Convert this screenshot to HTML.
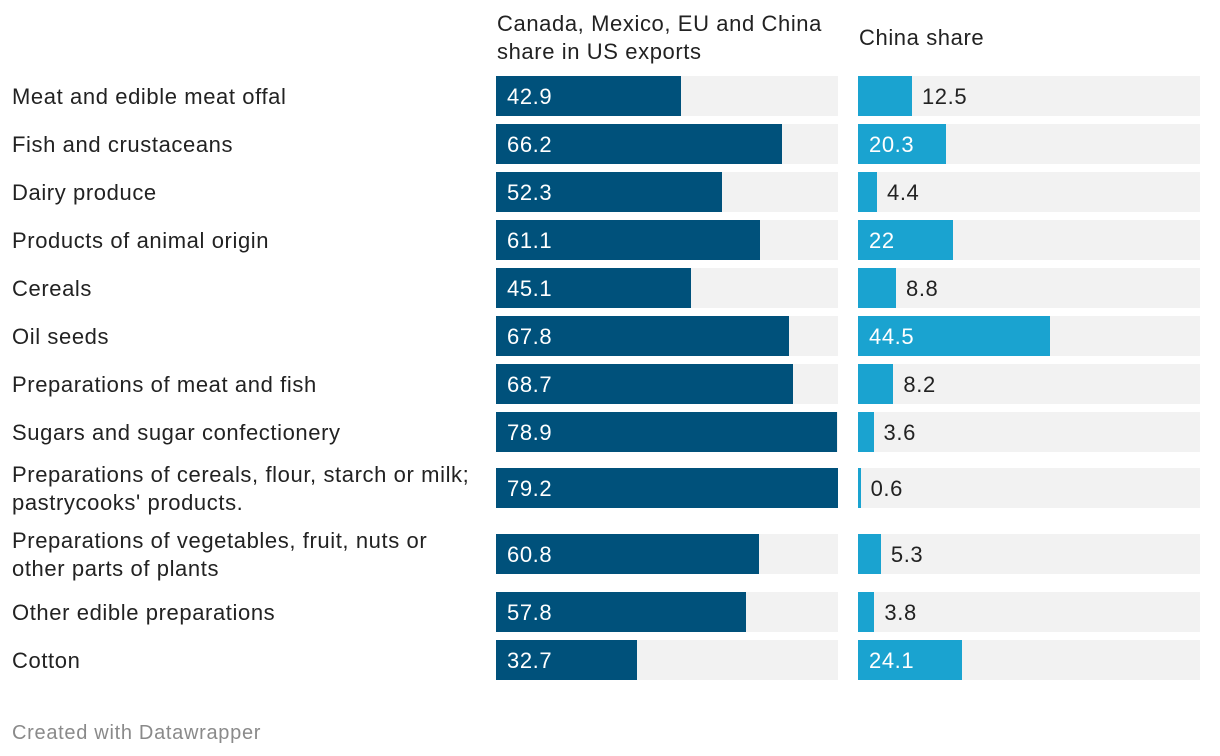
<!DOCTYPE html>
<html><head><meta charset="utf-8"><style>
body{margin:0;background:#fff;width:1220px;height:756px;position:relative;font-family:"Liberation Sans",sans-serif;color:#222;overflow:hidden}
.t{position:absolute;font-size:22px;letter-spacing:0.6px;line-height:28px;white-space:nowrap}
</style></head><body>
<div class="t" style="left:497px;top:10px">Canada, Mexico, EU and China<br>share in US exports</div>
<div class="t" style="left:859px;top:24px">China share</div>
<div id="chart"></div>
<div class="t" style="left:12px;top:719px;font-size:20px;letter-spacing:0.7px;color:#8a8a8a">Created with Datawrapper</div>
<script>
const categories=["Meat and edible meat offal","Fish and crustaceans","Dairy produce","Products of animal origin","Cereals","Oil seeds","Preparations of meat and fish","Sugars and sugar confectionery","Preparations of cereals, flour, starch or milk;|pastrycooks' products.","Preparations of vegetables, fruit, nuts or|other parts of plants","Other edible preparations","Cotton"];
const shareValues=[42.9,66.2,52.3,61.1,45.1,67.8,68.7,78.9,79.2,60.8,57.8,32.7];
const chinaValues=[12.5,20.3,4.4,22,8.8,44.5,8.2,3.6,0.6,5.3,3.8,24.1];
const rowTops=[76,124,172,220,268,316,364,412,468,534,592,640];
const maxV=79.2,W=342,H=40;
const x=v=>v/maxV*W;
const c=document.getElementById('chart');
categories.forEach((cat,i)=>{
  const y=rowTops[i];
  const lab=document.createElement('div');
  lab.className='t';
  
  
  lab.style.left='12px';
  const lines=cat.split('|');
  lab.style.top=(y+21-lines.length*14)+'px';
  lab.innerHTML=lines.join('<br>');
  c.appendChild(lab);
  [[496,shareValues[i],'#00517b','share-bar'],[858,chinaValues[i],'#1aa3d0','china-bar']].forEach(([x0,v,col,nm])=>{
    const bg=document.createElement('div');
    
    
    bg.style.cssText=`position:absolute;left:${x0}px;top:${y}px;width:${W}px;height:${H}px;background:#f2f2f2`;
    c.appendChild(bg);
    const w=Math.max(x(v),2);
    const b=document.createElement('div');
    
    
    b.style.cssText=`position:absolute;left:${x0}px;top:${y}px;width:${w}px;height:${H}px;background:${col}`;
    c.appendChild(b);
    const t=document.createElement('div');
    t.className='t';
    
    
    const inside=w>62;
    t.style.left=(inside?x0+11:x0+w+10)+'px';
    t.style.top=(y+7)+'px';
    t.style.color=inside?'#fff':'#222';
    t.textContent=String(v);
    c.appendChild(t);
  });
});
</script>
</body></html>
